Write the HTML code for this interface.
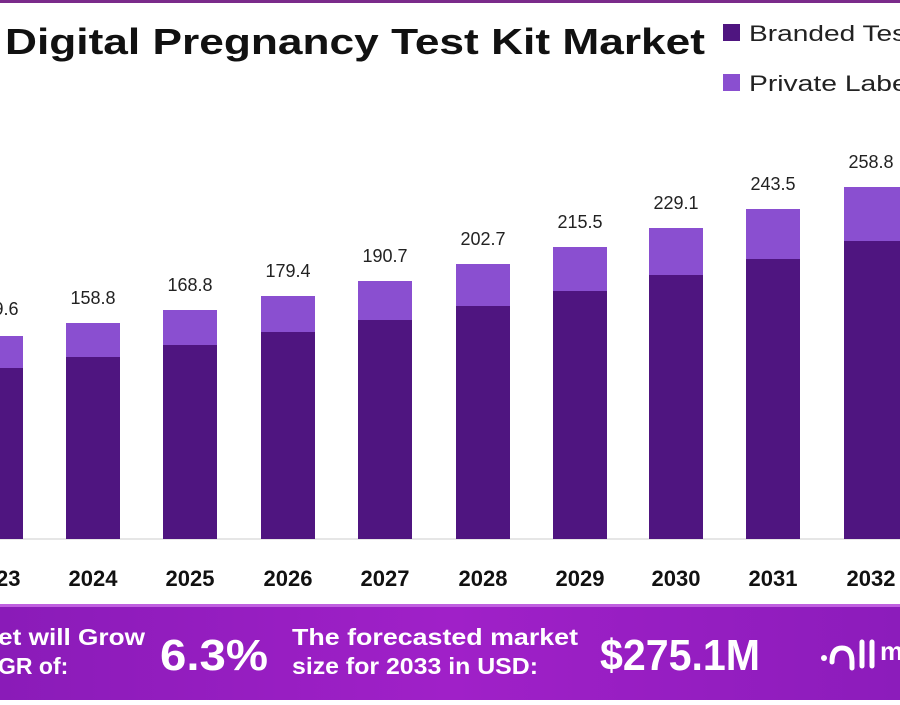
<!DOCTYPE html>
<html><head><style>
body{margin:0;width:900px;height:700px;overflow:hidden;background:#fff;font-family:"Liberation Sans",sans-serif;}
</style></head><body>
<svg width="900" height="700" xmlns="http://www.w3.org/2000/svg">
<defs>
<linearGradient id="bn" x1="0" x2="1" y1="0" y2="0">
<stop offset="0" stop-color="#8a1bb8"/><stop offset="0.5" stop-color="#a020c8"/><stop offset="1" stop-color="#8c1cbb"/>
</linearGradient>
</defs>
<rect x="0" y="0" width="900" height="3" fill="#7a2a8a"/>
<text x="5" y="54" font-size="36" font-weight="bold" fill="#111" textLength="700" lengthAdjust="spacingAndGlyphs">Digital Pregnancy Test Kit Market</text>
<rect x="723" y="24" width="17" height="17" fill="#4f1580"/>
<text x="749" y="41" font-size="22" fill="#222" textLength="165" lengthAdjust="spacingAndGlyphs">Branded Test</text>
<rect x="723" y="74" width="17" height="17" fill="#8a4fd0"/>
<text x="749" y="91" font-size="22" fill="#222" textLength="165" lengthAdjust="spacingAndGlyphs">Private Label</text>
<line x1="0" y1="539" x2="900" y2="539" stroke="#ddd" stroke-width="1.5"/>
<g>
<rect x="-31" y="336" width="54" height="203" fill="#8a4fd0"/><rect x="-31" y="368" width="54" height="171" fill="#4f1580"/>
<rect x="66" y="323" width="54" height="216" fill="#8a4fd0"/><rect x="66" y="357" width="54" height="182" fill="#4f1580"/>
<rect x="163" y="310" width="54" height="229" fill="#8a4fd0"/><rect x="163" y="345" width="54" height="194" fill="#4f1580"/>
<rect x="261" y="296" width="54" height="243" fill="#8a4fd0"/><rect x="261" y="332" width="54" height="207" fill="#4f1580"/>
<rect x="358" y="281" width="54" height="258" fill="#8a4fd0"/><rect x="358" y="320" width="54" height="219" fill="#4f1580"/>
<rect x="456" y="264" width="54" height="275" fill="#8a4fd0"/><rect x="456" y="306" width="54" height="233" fill="#4f1580"/>
<rect x="553" y="247" width="54" height="292" fill="#8a4fd0"/><rect x="553" y="291" width="54" height="248" fill="#4f1580"/>
<rect x="649" y="228" width="54" height="311" fill="#8a4fd0"/><rect x="649" y="275" width="54" height="264" fill="#4f1580"/>
<rect x="746" y="209" width="54" height="330" fill="#8a4fd0"/><rect x="746" y="259" width="54" height="280" fill="#4f1580"/>
<rect x="844" y="187" width="56" height="352" fill="#8a4fd0"/><rect x="844" y="241" width="56" height="298" fill="#4f1580"/>
</g>
<g font-size="18" fill="#222" text-anchor="middle">
<text x="-4" y="315">149.6</text>
<text x="93" y="304">158.8</text>
<text x="190" y="291">168.8</text>
<text x="288" y="277">179.4</text>
<text x="385" y="262">190.7</text>
<text x="483" y="245">202.7</text>
<text x="580" y="228">215.5</text>
<text x="676" y="209">229.1</text>
<text x="773" y="190">243.5</text>
<text x="871" y="168">258.8</text>
</g>
<g font-size="22" font-weight="bold" fill="#111" text-anchor="middle">
<text x="-4" y="586">2023</text>
<text x="93" y="586">2024</text>
<text x="190" y="586">2025</text>
<text x="288" y="586">2026</text>
<text x="385" y="586">2027</text>
<text x="483" y="586">2028</text>
<text x="580" y="586">2029</text>
<text x="676" y="586">2030</text>
<text x="773" y="586">2031</text>
<text x="871" y="586">2032</text>
</g>
<rect x="0" y="604" width="900" height="96" fill="url(#bn)"/>
<rect x="0" y="604" width="900" height="3" fill="#c060e0"/>
<g fill="#fff" font-weight="bold">
<text x="-2" y="645" font-size="23" textLength="147" lengthAdjust="spacingAndGlyphs">et will Grow</text>
<text x="-2" y="674" font-size="23">GR of:</text>
<text x="160" y="670" font-size="44" textLength="108" lengthAdjust="spacingAndGlyphs">6.3%</text>
<text x="292" y="645" font-size="23" textLength="286" lengthAdjust="spacingAndGlyphs">The forecasted market</text>
<text x="292" y="674" font-size="23" textLength="246" lengthAdjust="spacingAndGlyphs">size for 2033 in USD:</text>
<text x="600" y="670" font-size="44" textLength="160" lengthAdjust="spacingAndGlyphs">$275.1M</text>
</g>
<g fill="none" stroke="#fff" stroke-width="5" stroke-linecap="round">
<path d="M832 662 q0 -14 10 -14 q10 0 10 14 v6"/>
<path d="M862 642 v24"/>
<path d="M872 642 v24"/>
</g>
<circle cx="824" cy="658" r="3" fill="#fff"/>
<text x="880" y="660" font-size="26" font-weight="bold" fill="#fff">m</text>
</svg>
</body></html>
